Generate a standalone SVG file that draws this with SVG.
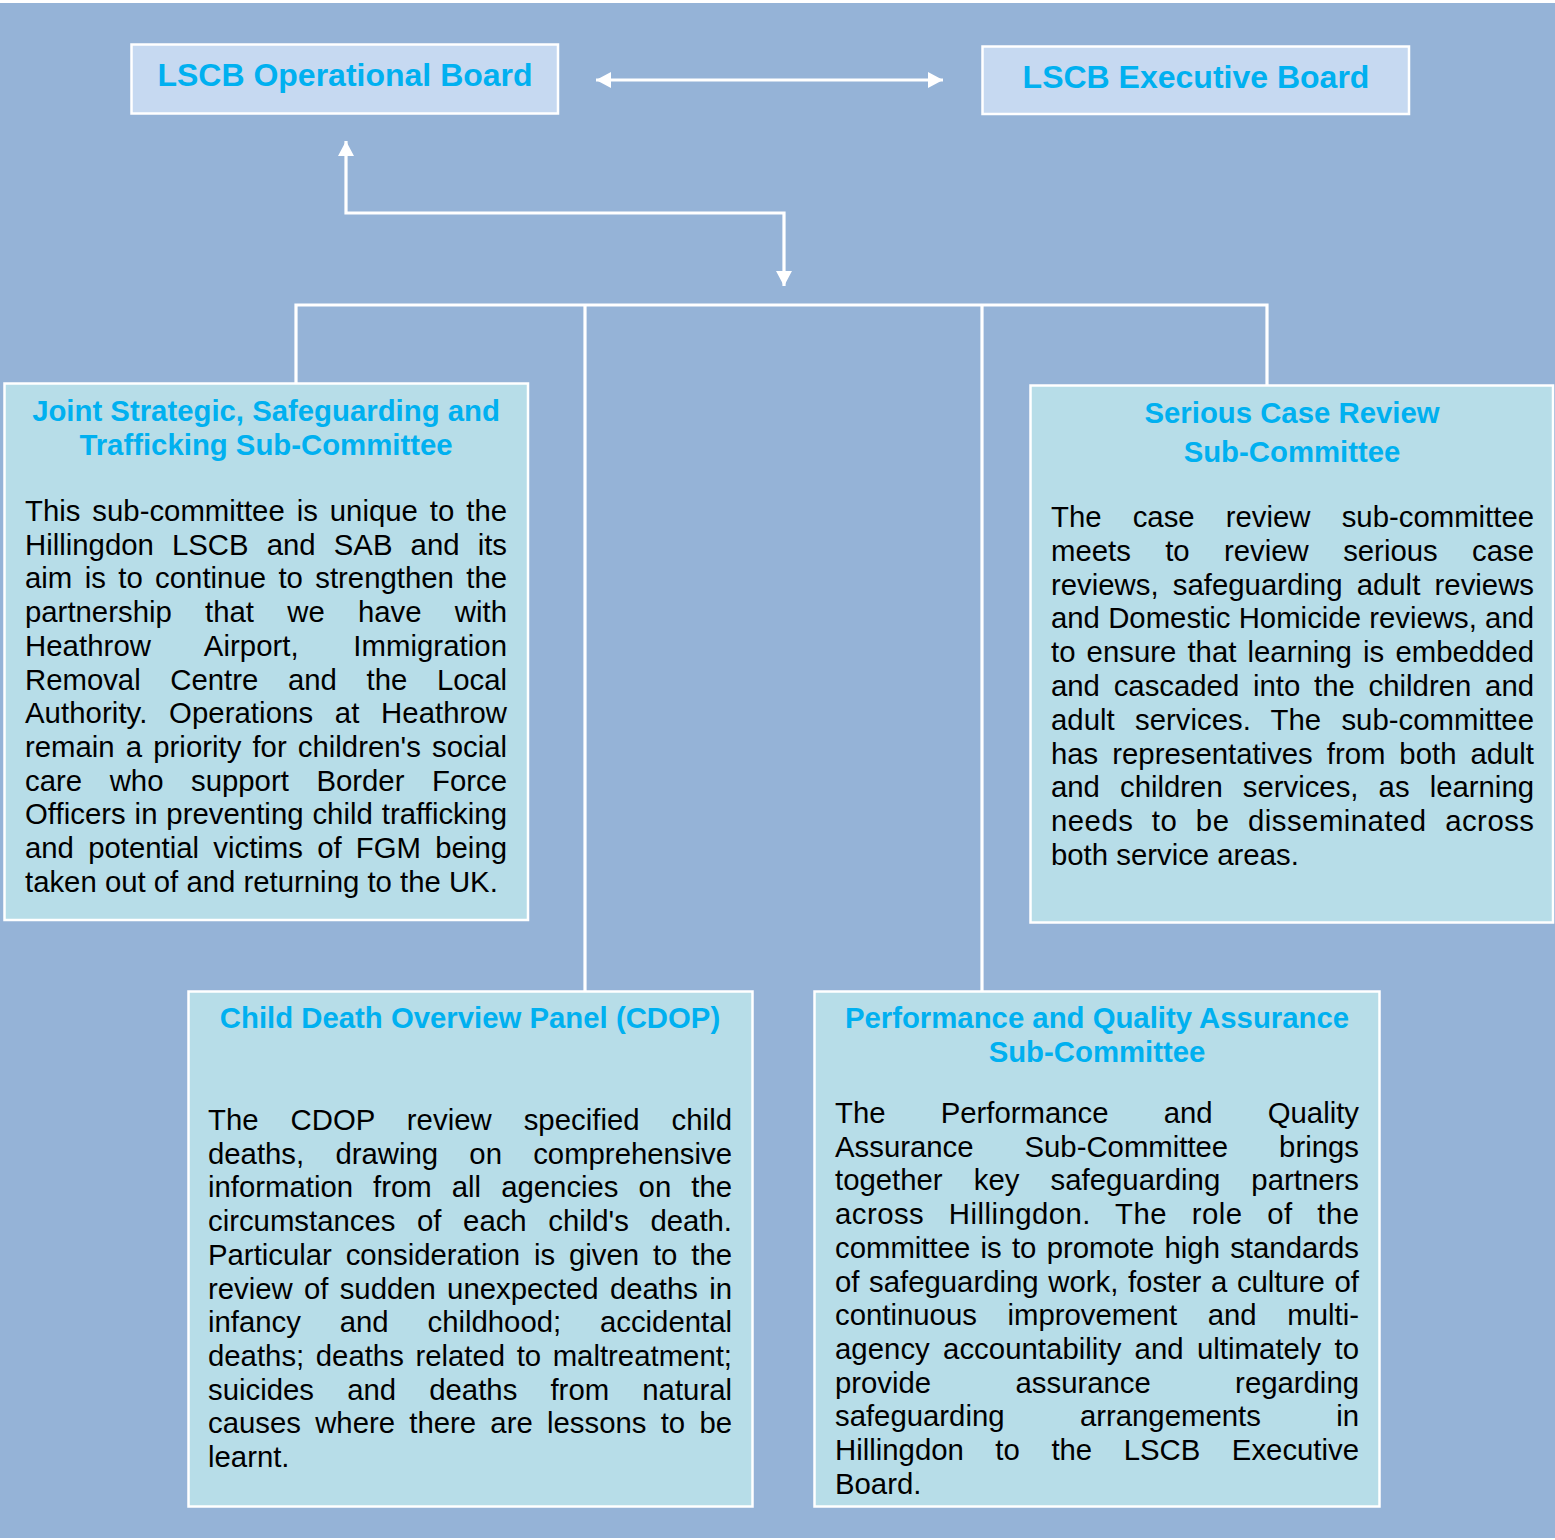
<svg xmlns="http://www.w3.org/2000/svg" width="1555" height="1540" viewBox="0 0 1555 1540">
<style>
.board{fill:#C6D9F1;stroke:#FFFFFF;stroke-width:2.5}
.sub{fill:#B7DDE8;stroke:#FFFFFF;stroke-width:2.5}
.bt{font-family:"Liberation Sans",Arial,sans-serif;font-weight:bold;font-size:32px;fill:#00B0F0;text-anchor:middle}
.st{font-family:"Liberation Sans",Arial,sans-serif;font-weight:bold;font-size:29.33px;fill:#00B0F0;text-anchor:middle}
.body{font-family:"Liberation Sans",Arial,sans-serif;font-size:29.33px;fill:#000000}
.conn{fill:none;stroke:#FFFFFF;stroke-width:3.2}
</style>
<defs>
<marker id="ah" markerUnits="userSpaceOnUse" markerWidth="16" markerHeight="16" refX="15" refY="8" orient="auto-start-reverse" viewBox="0 0 16 16">
<path d="M0,0 L15,8 L0,16 Z" fill="#FFFFFF"/>
</marker>
</defs>
<rect x="0" y="0" width="1555" height="1540" fill="#FFFFFF"/>
<rect x="0" y="3" width="1555" height="1535" fill="#95B3D7"/>

<g id="connectors">
<path class="conn" d="M596,80 H943" marker-start="url(#ah)" marker-end="url(#ah)"/>
<path class="conn" d="M784,286 V213 H346 V141" marker-start="url(#ah)" marker-end="url(#ah)"/>
<path class="conn" d="M296,383 V305 H1267 V385"/>
<path class="conn" d="M585,305 V991"/>
<path class="conn" d="M982,305 V991"/>
</g>

<g id="operational-board">
<rect class="board" x="131.5" y="44.5" width="426.5" height="69"/>
<text class="bt" x="345" y="86">LSCB Operational Board</text>
</g>

<g id="executive-board">
<rect class="board" x="982.5" y="46.5" width="426.5" height="67.5"/>
<text class="bt" x="1196" y="88">LSCB Executive Board</text>
</g>

<g id="joint-strategic">
<rect class="sub" x="4.5" y="383.5" width="523.5" height="536.5"/>
<text class="st" x="266" y="421">Joint Strategic, Safeguarding and</text>
<text class="st" x="266" y="455">Trafficking Sub-Committee</text>
<text class="body" x="25" y="521" word-spacing="3.8" textLength="482" lengthAdjust="spacing">This sub-committee is unique to the</text>
<text class="body" x="25" y="554.7" word-spacing="10" textLength="482" lengthAdjust="spacing">Hillingdon LSCB and SAB and its</text>
<text class="body" x="25" y="588.4" word-spacing="4.25" textLength="482" lengthAdjust="spacing">aim is to continue to strengthen the</text>
<text class="body" x="25" y="622.1" word-spacing="25.1" textLength="482" lengthAdjust="spacing">partnership that we have with</text>
<text class="body" x="25" y="655.8" word-spacing="46.2" textLength="482" lengthAdjust="spacing">Heathrow Airport, Immigration</text>
<text class="body" x="25" y="689.5" word-spacing="21.5" textLength="482" lengthAdjust="spacing">Removal Centre and the Local</text>
<text class="body" x="25" y="723.2" word-spacing="13.4" textLength="482" lengthAdjust="spacing">Authority. Operations at Heathrow</text>
<text class="body" x="25" y="756.9" word-spacing="3" textLength="482" lengthAdjust="spacing">remain a priority for children's social</text>
<text class="body" x="25" y="790.6" word-spacing="19.4" textLength="482" lengthAdjust="spacing">care who support Border Force</text>
<text class="body" x="25" y="824.3" word-spacing="0.7" textLength="482" lengthAdjust="spacing">Officers in preventing child trafficking</text>
<text class="body" x="25" y="858" word-spacing="6.1" textLength="482" lengthAdjust="spacing">and potential victims of FGM being</text>
<text class="body" x="25" y="891.7">taken out of and returning to the UK.</text>
</g>

<g id="serious-case-review">
<rect class="sub" x="1030.5" y="385.5" width="522.5" height="537"/>
<text class="st" x="1292" y="423">Serious Case Review</text>
<text class="st" x="1292" y="462">Sub-Committee</text>
<text class="body" x="1051" y="527" word-spacing="23" textLength="483" lengthAdjust="spacing">The case review sub-committee</text>
<text class="body" x="1051" y="560.8" word-spacing="26.2" textLength="483" lengthAdjust="spacing">meets to review serious case</text>
<text class="body" x="1051" y="594.6" word-spacing="6.1" textLength="483" lengthAdjust="spacing">reviews, safeguarding adult reviews</text>
<text class="body" x="1051" y="628.4" word-spacing="0.1" textLength="483" lengthAdjust="spacing">and Domestic Homicide reviews, and</text>
<text class="body" x="1051" y="662.2" word-spacing="3" textLength="483" lengthAdjust="spacing">to ensure that learning is embedded</text>
<text class="body" x="1051" y="696" word-spacing="5.6" textLength="483" lengthAdjust="spacing">and cascaded into the children and</text>
<text class="body" x="1051" y="729.8" word-spacing="12.1" textLength="483" lengthAdjust="spacing">adult services. The sub-committee</text>
<text class="body" x="1051" y="763.6" word-spacing="5.8" textLength="483" lengthAdjust="spacing">has representatives from both adult</text>
<text class="body" x="1051" y="797.4" word-spacing="12" textLength="483" lengthAdjust="spacing">and children services, as learning</text>
<text class="body" x="1051" y="831.2" word-spacing="9.9" textLength="483" lengthAdjust="spacing">needs to be disseminated across</text>
<text class="body" x="1051" y="865">both service areas.</text>
</g>

<g id="cdop">
<rect class="sub" x="188.5" y="991.5" width="564" height="515"/>
<text class="st" x="470" y="1028">Child Death Overview Panel (CDOP)</text>
<text class="body" x="208" y="1130" word-spacing="23.8" textLength="524" lengthAdjust="spacing">The CDOP review specified child</text>
<text class="body" x="208" y="1163.7" word-spacing="23.1" textLength="524" lengthAdjust="spacing">deaths, drawing on comprehensive</text>
<text class="body" x="208" y="1197.4" word-spacing="11.9" textLength="524" lengthAdjust="spacing">information from all agencies on the</text>
<text class="body" x="208" y="1231.1" word-spacing="13.5" textLength="524" lengthAdjust="spacing">circumstances of each child's death.</text>
<text class="body" x="208" y="1264.8" word-spacing="5.7" textLength="524" lengthAdjust="spacing">Particular consideration is given to the</text>
<text class="body" x="208" y="1298.5" word-spacing="3.1" textLength="524" lengthAdjust="spacing">review of sudden unexpected deaths in</text>
<text class="body" x="208" y="1332.2" word-spacing="30.7" textLength="524" lengthAdjust="spacing">infancy and childhood; accidental</text>
<text class="body" x="208" y="1365.9" word-spacing="3.4" textLength="524" lengthAdjust="spacing">deaths; deaths related to maltreatment;</text>
<text class="body" x="208" y="1399.6" word-spacing="25" textLength="524" lengthAdjust="spacing">suicides and deaths from natural</text>
<text class="body" x="208" y="1433.3" word-spacing="6.1" textLength="524" lengthAdjust="spacing">causes where there are lessons to be</text>
<text class="body" x="208" y="1467">learnt.</text>
</g>

<g id="performance-quality">
<rect class="sub" x="814.5" y="991.5" width="565" height="515"/>
<text class="st" x="1097" y="1028">Performance and Quality Assurance</text>
<text class="st" x="1097" y="1062">Sub-Committee</text>
<text class="body" x="835" y="1123" word-spacing="47" textLength="524" lengthAdjust="spacing">The Performance and Quality</text>
<text class="body" x="835" y="1156.7" word-spacing="42.8" textLength="524" lengthAdjust="spacing">Assurance Sub-Committee brings</text>
<text class="body" x="835" y="1190.4" word-spacing="23" textLength="524" lengthAdjust="spacing">together key safeguarding partners</text>
<text class="body" x="835" y="1224.1" word-spacing="16.1" textLength="524" lengthAdjust="spacing">across Hillingdon. The role of the</text>
<text class="body" x="835" y="1257.8" word-spacing="2.1" textLength="524" lengthAdjust="spacing">committee is to promote high standards</text>
<text class="body" x="835" y="1291.5" word-spacing="1.5" textLength="524" lengthAdjust="spacing">of safeguarding work, foster a culture of</text>
<text class="body" x="835" y="1325.2" word-spacing="22.5" textLength="524" lengthAdjust="spacing">continuous improvement and multi-</text>
<text class="body" x="835" y="1358.9" word-spacing="5.1" textLength="524" lengthAdjust="spacing">agency accountability and ultimately to</text>
<text class="body" x="835" y="1392.6" word-spacing="76.2" textLength="524" lengthAdjust="spacing">provide assurance regarding</text>
<text class="body" x="835" y="1426.3" word-spacing="67.2" textLength="524" lengthAdjust="spacing">safeguarding arrangements in</text>
<text class="body" x="835" y="1460" word-spacing="23.4" textLength="524" lengthAdjust="spacing">Hillingdon to the LSCB Executive</text>
<text class="body" x="835" y="1493.7">Board.</text>
</g>
</svg>
